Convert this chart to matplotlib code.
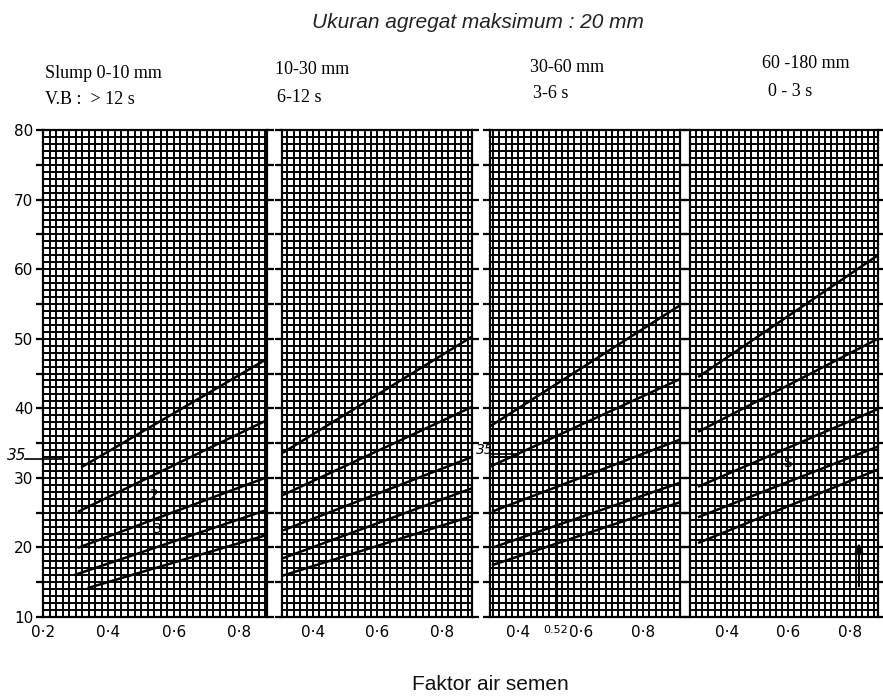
import numpy as np
import matplotlib
matplotlib.use("Agg")
import matplotlib.pyplot as plt
from matplotlib.ticker import MultipleLocator, FixedLocator, FixedFormatter, FuncFormatter

# data (faktor air semen vs kuat tekan)
headers = [("Slump 0-10 mm", "V.B :  > 12 s"),
           ("10-30 mm", "6-12 s"),
           ("30-60 mm", "3-6 s"),
           ("60 -180 mm", "0 - 3 s")]

xticks = [[0.2, 0.4, 0.6, 0.8], [0.4, 0.6, 0.8], [0.4, 0.52, 0.6, 0.8], [0.4, 0.6, 0.8]]
xticklabels = [["0·2", "0·4", "0·6", "0·8"], ["0·4", "0·6", "0·8"],
               ["0·4", "0.52", "0·6", "0·8"], ["0·4", "0·6", "0·8"]]
xlims = [(0.2, 0.885), (0.304, 0.893), (0.31, 0.918), (0.28, 0.892)]

# each curve: [w/c start, w/c end], [strength start, strength end]
p1_x = [[0.32, 0.885], [0.31, 0.885], [0.31, 0.885], [0.30, 0.885], [0.34, 0.885]]
p1_y = [[31.6, 47.1], [25.2, 38.3], [20.0, 30.1], [16.1, 25.4], [14.2, 21.8]]
p2_x = [[0.31, 0.893], [0.31, 0.893], [0.31, 0.893], [0.31, 0.893], [0.31, 0.893]]
p2_y = [[33.7, 50.3], [27.6, 40.2], [22.5, 33.0], [18.5, 28.5], [16.0, 24.5]]
p3_x = [[0.31, 0.918], [0.31, 0.918], [0.32, 0.918], [0.32, 0.918], [0.32, 0.918]]
p3_y = [[37.4, 54.8], [31.6, 44.2], [25.2, 35.5], [20.0, 29.3], [17.5, 26.5]]
p4_x = [[0.31, 0.892], [0.31, 0.892], [0.31, 0.892], [0.31, 0.892], [0.31, 0.892]]
p4_y = [[44.6, 62.0], [36.7, 50.0], [28.8, 39.9], [24.4, 34.5], [20.7, 31.2]]

curves_x = [p1_x, p2_x, p3_x, p4_x]
curves_y = [p1_y, p2_y, p3_y, p4_y]

W, H = 883, 700
fig = plt.figure(figsize=(W / 100, H / 100), dpi=100)

# panel pixel extents (left, right)
px = [(43, 267), (282, 472), (490, 680), (690, 878)]
ytop, ybot = 130, 617

axes = []
for i in range(4):
    x0, x1 = px[i]
    ax = fig.add_axes([x0 / W, 1 - ybot / H, (x1 - x0) / W, (ybot - ytop) / H])
    ax.set_xlim(*xlims[i])
    ax.set_ylim(10, 80)
    ax.xaxis.set_major_locator(FixedLocator(xticks[i]))
    ax.xaxis.set_major_formatter(FixedFormatter(xticklabels[i]))
    ax.xaxis.set_minor_locator(MultipleLocator(0.02))
    ax.yaxis.set_major_locator(MultipleLocator(5))
    ax.yaxis.set_minor_locator(MultipleLocator(1))
    ax.grid(which='both', color='black', lw=1.4)
    ax.set_axisbelow(True)
    ax.tick_params(axis='x', which='both', length=0, labelsize=11, pad=6)
    ax.tick_params(axis='y', which='major', left=True, right=True, direction='out',
                   length=5, width=1.6)
    ax.tick_params(axis='y', which='minor', length=0)
    if i == 0:
        ax.yaxis.set_major_formatter(FuncFormatter(lambda v, p: "%d" % v if v % 10 == 0 else ""))
        ax.tick_params(axis='y', labelsize=11, pad=2)
    else:
        ax.set_yticklabels([])
    for s in ax.spines.values():
        s.set_linewidth(1.6)
    for cx, cy in zip(curves_x[i], curves_y[i]):
        ax.plot(cx, cy, color='black', lw=1.8)
    axes.append(ax)

# the small 0.52 label in panel 3
for lab in axes[2].get_xticklabels():
    if lab.get_text() == "0.52":
        lab.set_fontsize(8)

# handwritten marks
axes[0].plot([0.145, 0.26], [32.7, 32.7], color='black', lw=1.2, clip_on=False)
axes[0].text(0.09, 33.2, "35", fontsize=11, style='italic', ha='left', va='center')
axes[0].text(0.54, 27.6, "2", fontsize=10, ha='center', va='center')
axes[0].text(0.55, 22.6, "3", fontsize=10, ha='center', va='center')
axes[1].text(0.905, 34.0, "35", fontsize=10, style='italic', ha='left', va='center')
axes[2].plot([0.31, 0.40], [33.5, 33.5], color='black', lw=1.2)
axes[2].plot([0.52, 0.52], [10, 37.0], color='black', lw=2.2)
axes[3].text(0.596, 32.2, "S", fontsize=10, ha='center', va='center')
axes[3].annotate("", xy=(0.83, 21.0), xytext=(0.83, 14.0),
                 arrowprops=dict(arrowstyle='-|>', color='black', lw=1.5, mutation_scale=12))

def ftext(x, y, s, **kw):
    fig.text(x / W, 1 - y / H, s, **kw)

serif = ['Liberation Serif', 'DejaVu Serif']
hx = [(45, 73, 45, 100), (275, 70, 277, 97), (530, 67, 533, 94), (762, 64, 768, 91)]
for (l1, l2), (x1, y1, x2, y2) in zip(headers, hx):
    ftext(x1, y1, l1, family=serif, fontsize=13, ha='left', va='center')
    ftext(x2, y2, l2, family=serif, fontsize=13, ha='left', va='center')

ftext(478, 22, "Ukuran agregat maksimum : 20 mm", family=['Liberation Sans', 'DejaVu Sans'],
      style='italic', fontsize=15, color='#222222', ha='center', va='center')
ftext(490, 685, "Faktor air semen", family=['Liberation Sans', 'DejaVu Sans'],
      fontsize=15, color='#111111', ha='center', va='center')

fig.savefig("out.png", dpi=100)
